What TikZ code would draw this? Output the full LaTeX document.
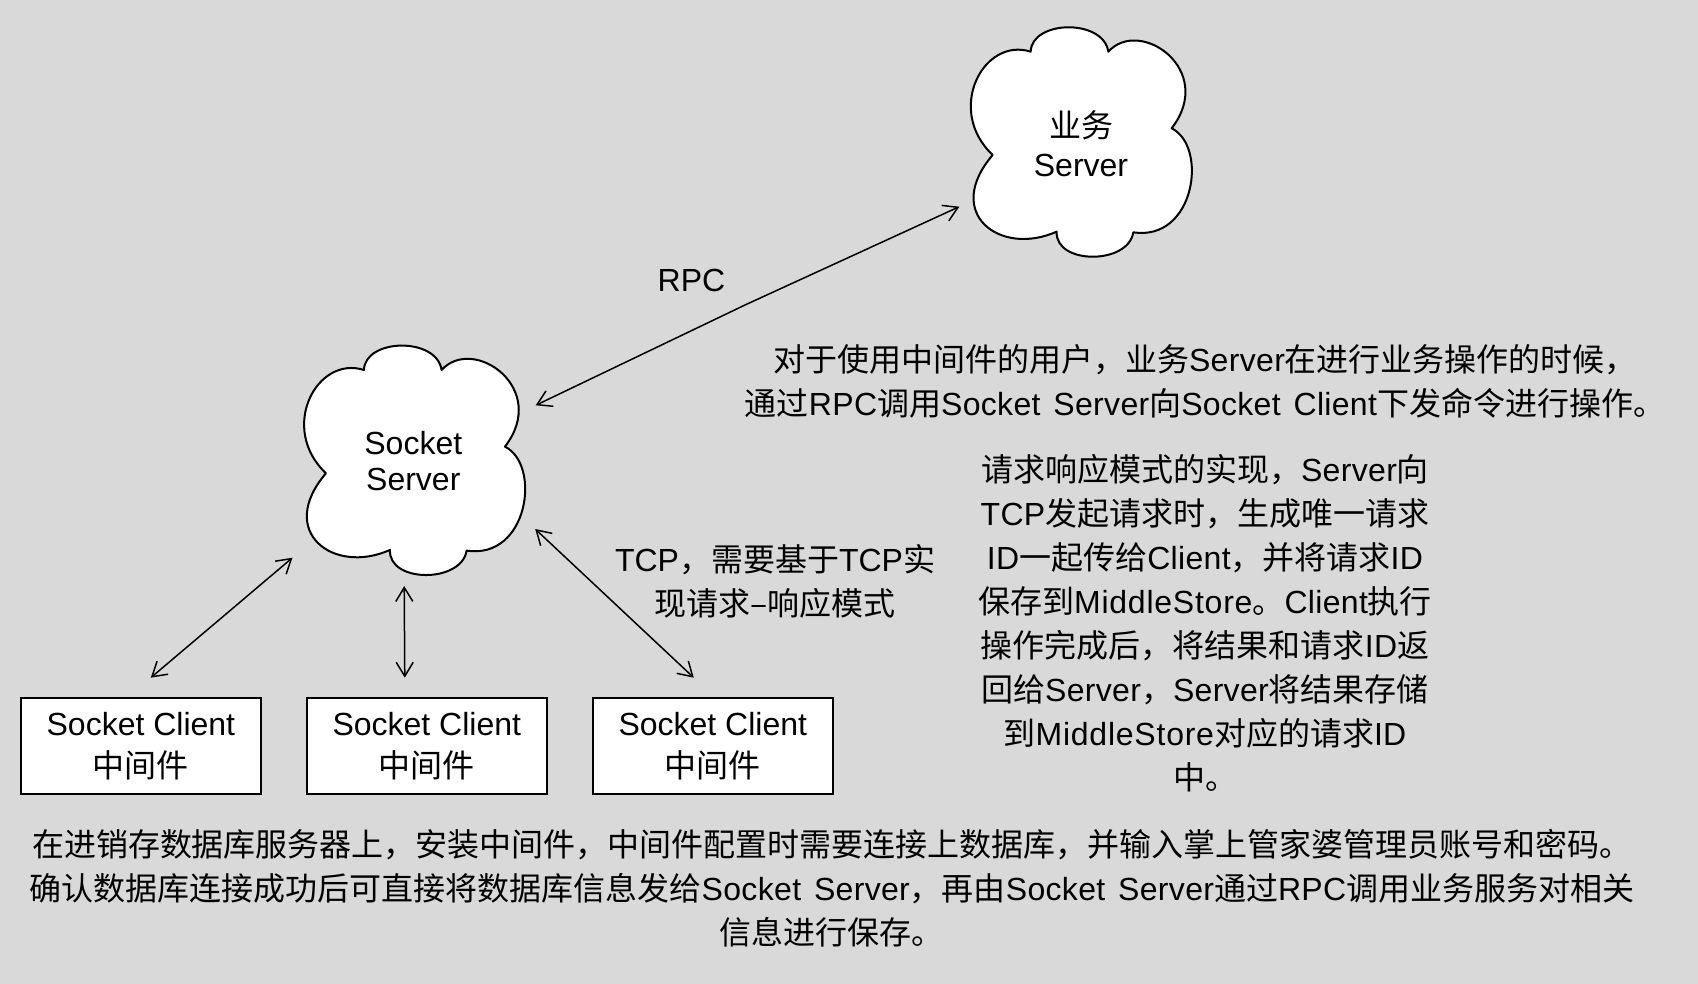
\documentclass[tikz,border=0pt]{standalone}
\usepackage{fontspec}
\setmainfont{Liberation Sans}
\newfontfamily\cjk{Noto Sans CJK SC}
\newfontfamily\plat[LetterSpace=1.0,WordSpace=1.4]{Liberation Sans}
\newfontfamily\platw[LetterSpace=2.4]{Liberation Sans}
\newcommand{\cn}[1]{{\cjk #1}}
\usetikzlibrary{arrows.meta}
\definecolor{bgc}{RGB}{217,217,217}
\tikzset{
  cloudstyle/.style={draw=black,fill=white,line width=2pt,line join=round},
  clientbox/.style={draw=black,fill=white,line width=2.2pt,minimum width=240pt,minimum height=96pt,inner sep=0pt,align=center,font=\fontsize{32}{42}\selectfont},
  cloudtext/.style={inner sep=0pt,align=center},
  para/.style={inner sep=0pt,align=center,font=\plat\fontsize{32}{44}\selectfont},
  link/.style={draw=black,line width=1.5pt,{Straight Barb[length=14pt,width=17pt,line width=1.5pt]}-{Straight Barb[length=14pt,width=17pt,line width=1.5pt]}}
}
\newcommand{\cloudoutline}{(272,155) .. controls (275,60) and (490,55) .. (505,155)
  .. controls (600,50) and (830,210) .. (695,385)
  .. controls (805,440) and (765,725) .. (580,697)
  .. controls (565,795) and (345,795) .. (350,695)
  .. controls (180,771) and (8,640) .. (158,465)
  .. controls (15,330) and (130,110) .. (272,155) -- cycle}
\begin{document}
\begin{tikzpicture}[x=1pt,y=-1pt]
\useasboundingbox (0,0) rectangle (1698,984);
\fill[bgc] (0,0) rectangle (1698,984);
% clouds
\begin{scope}[shift={(940,0)},x=0.3333pt,y=-0.3333pt]
  \draw[cloudstyle] \cloudoutline;
\end{scope}
\begin{scope}[shift={(273.3,318.3)},x=0.3333pt,y=-0.3333pt]
  \draw[cloudstyle] \cloudoutline;
\end{scope}
\node[cloudtext,font=\fontsize{32}{39.5}\selectfont] (biz) at (1081,143.5) {\cn{业务}\\Server};
\node[cloudtext,font=\fontsize{32}{36.7}\selectfont] (srv) at (413.3,461.2) {Socket\\Server};
% boxes
\node[clientbox] (c1) at (140.9,745.8) {Socket Client\\\cn{中间件}};
\node[clientbox] (c2) at (426.8,745.8) {Socket Client\\\cn{中间件}};
\node[clientbox] (c3) at (712.8,745.8) {Socket Client\\\cn{中间件}};
% connector ends
\coordinate (a1s) at (150.8,677.7);
\coordinate (a1e) at (292.5,557.7);
\coordinate (a2s) at (404.8,677.7);
\coordinate (a2e) at (404.2,586);
\coordinate (a3s) at (693.8,677.7);
\coordinate (a3e) at (535.2,529);
\coordinate (r1) at (535.7,405.3);
\coordinate (rm) at (745,305);
\coordinate (r2) at (959.3,206.7);
\draw[link] (a1s) -- (a1e);
\draw[link] (a2s) -- (a2e);
\draw[link] (a3s) -- (a3e);
\draw[link] (r1) -- (rm) -- (r2);
% labels
\node[para,font=\fontsize{32}{44}\selectfont] (rpc) at (691.5,280) {RPC};
\node[para,font=\fontsize{32}{44}\selectfont] (tcp) at (775,581.5) {TCP\cn{，需要基于}TCP\cn{实}\\\cn{现请求–响应模式}};
\node[para] (p1) at (1205,381.5) {\cn{对于使用中间件的用户，业务}Server\cn{在进行业务操作的时候，}\\\cn{通过}RPC\cn{调用}Socket Server\cn{向}Socket Client\cn{下发命令进行操作。}};
\node[para] (p2) at (1205,623) {\cn{请求响应模式的实现，}Server\cn{向}\\TCP\cn{发起请求时，生成唯一请求}\\ID\cn{一起传给}Client\cn{，并将请求}ID\\\cn{保存到}{\platw MiddleStore}\cn{。}Client\cn{执行}\\\cn{操作完成后，将结果和请求}ID\cn{返}\\\cn{回给}Server\cn{，}Server\cn{将结果存储}\\\cn{到}{\platw MiddleStore}\cn{对应的请求}ID\\\cn{中。}};
\node[para] (p3) at (832,888.5) {\cn{在进销存数据库服务器上，安装中间件，中间件配置时需要连接上数据库，并输入掌上管家婆管理员账号和密码。}\\\cn{确认数据库连接成功后可直接将数据库信息发给}Socket Server\cn{，再由}Socket Server\cn{通过}RPC\cn{调用业务服务对相关}\\\cn{信息进行保存。}};
\end{tikzpicture}
\end{document}
